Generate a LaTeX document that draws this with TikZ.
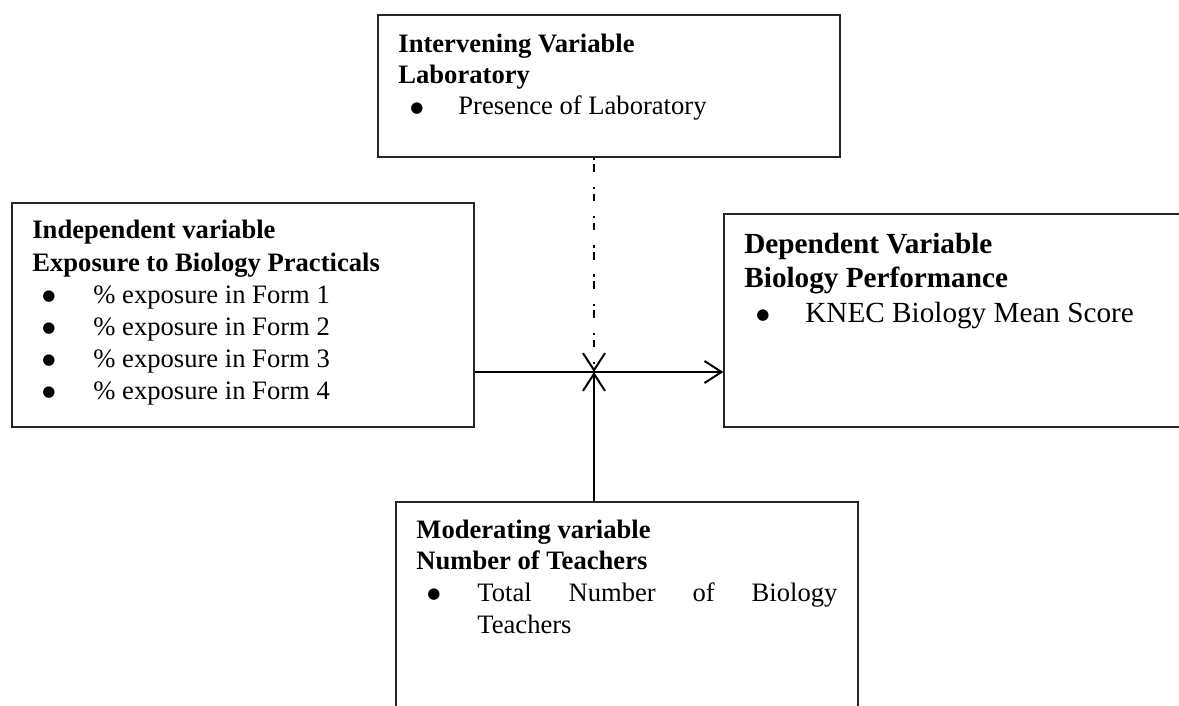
\documentclass[tikz,border=0pt]{standalone}
\usepackage{fontspec}
\setmainfont{Liberation Serif}
\newfontfamily\dejavu{DejaVu Sans}
\usetikzlibrary{arrows.meta}
\newcommand{\bigdot}{\raisebox{1.4pt}{\dejavu\fontsize{7.5}{8}\selectfont ●}}
\tikzset{
  box/.style={draw=black!85, line width=0.65pt, rectangle, inner sep=0pt},
  txt/.style={anchor=base west, inner sep=0pt, font=\fontsize{13.3}{15.8}\selectfont},
  head/.style={txt, font=\fontsize{13.3}{15.8}\selectfont\bfseries},
  bigtxt/.style={anchor=base west, inner sep=0pt, font=\fontsize{14.6}{17}\selectfont},
  bighead/.style={bigtxt, font=\fontsize{14.6}{17}\selectfont\bfseries},
  bul/.style={anchor=base, inner sep=0pt},
  arr/.style={line width=1pt, -{Straight Barb[length=8.5pt,width=11pt,line width=1pt]}},
  ddline/.style={line width=1.1pt, dash pattern=on 1.2pt off 2.2pt on 3.8pt off 7.4pt}
}
\begin{document}
\begin{tikzpicture}[x=0.5pt,y=-0.5pt]
\useasboundingbox (0,0) rectangle (1179,706);
\clip (0,0) rectangle (1179,706);
% boxes
\node[box, minimum width=231pt, minimum height=71pt] (top) at (609,86) {};
\node[box, minimum width=231pt, minimum height=112pt] (ind) at (243,315) {};
\node[box, minimum width=233pt, minimum height=106.5pt] (dep) at (957,320.5) {};
\node[box, minimum width=231pt, minimum height=109pt] (mod) at (627,611) {};
% top box text
\node[head] (t1) at (398,53) {Intervening Variable};
\node[head] (t2) at (398,84) {Laboratory};
\node[bul]  (tb) at (417,115) {\bigdot};
\node[txt]  (t3) at (458,115) {Presence of Laboratory};
% left box text
\node[head] (i1) at (32,239) {Independent variable};
\node[head] (i2) at (32,271) {Exposure to Biology Practicals};
\node[bul] (ib1) at (49,303) {\bigdot};
\node[txt] (i3) at (93,303) {\% exposure in Form 1};
\node[bul] (ib2) at (49,335) {\bigdot};
\node[txt] (i4) at (93,335) {\% exposure in Form 2};
\node[bul] (ib3) at (49,367) {\bigdot};
\node[txt] (i5) at (93,367) {\% exposure in Form 3};
\node[bul] (ib4) at (49,399) {\bigdot};
\node[txt] (i6) at (93,399) {\% exposure in Form 4};
% right box text
\node[bighead] (d1) at (744,253) {Dependent Variable};
\node[bighead] (d2) at (744,287) {Biology Performance};
\node[bul] (db) at (763,322) {\bigdot};
\node[bigtxt] (d3) at (805,322) {KNEC Biology Mean Score};
% bottom box text
\node[head] (m1) at (416,538) {Moderating variable};
\node[head] (m2) at (416,569) {Number of Teachers};
\node[bul] (mb) at (434,601) {\bigdot};
\node[txt] (m3) at (477,601) {\makebox[180pt][s]{Total\hfill Number\hfill of\hfill Biology}};
\node[txt] (m4) at (477,633) {Teachers};
% connectors
\coordinate (J) at (594,372);
\draw[arr] (ind.east |- J) -- (dep.west |- J);
\draw[ddline, -{Straight Barb[length=8.5pt,width=11pt,line width=1pt]}] (J |- top.south) -- (J);
\draw[arr] (J |- mod.north) -- (J);
\end{tikzpicture}
\end{document}
